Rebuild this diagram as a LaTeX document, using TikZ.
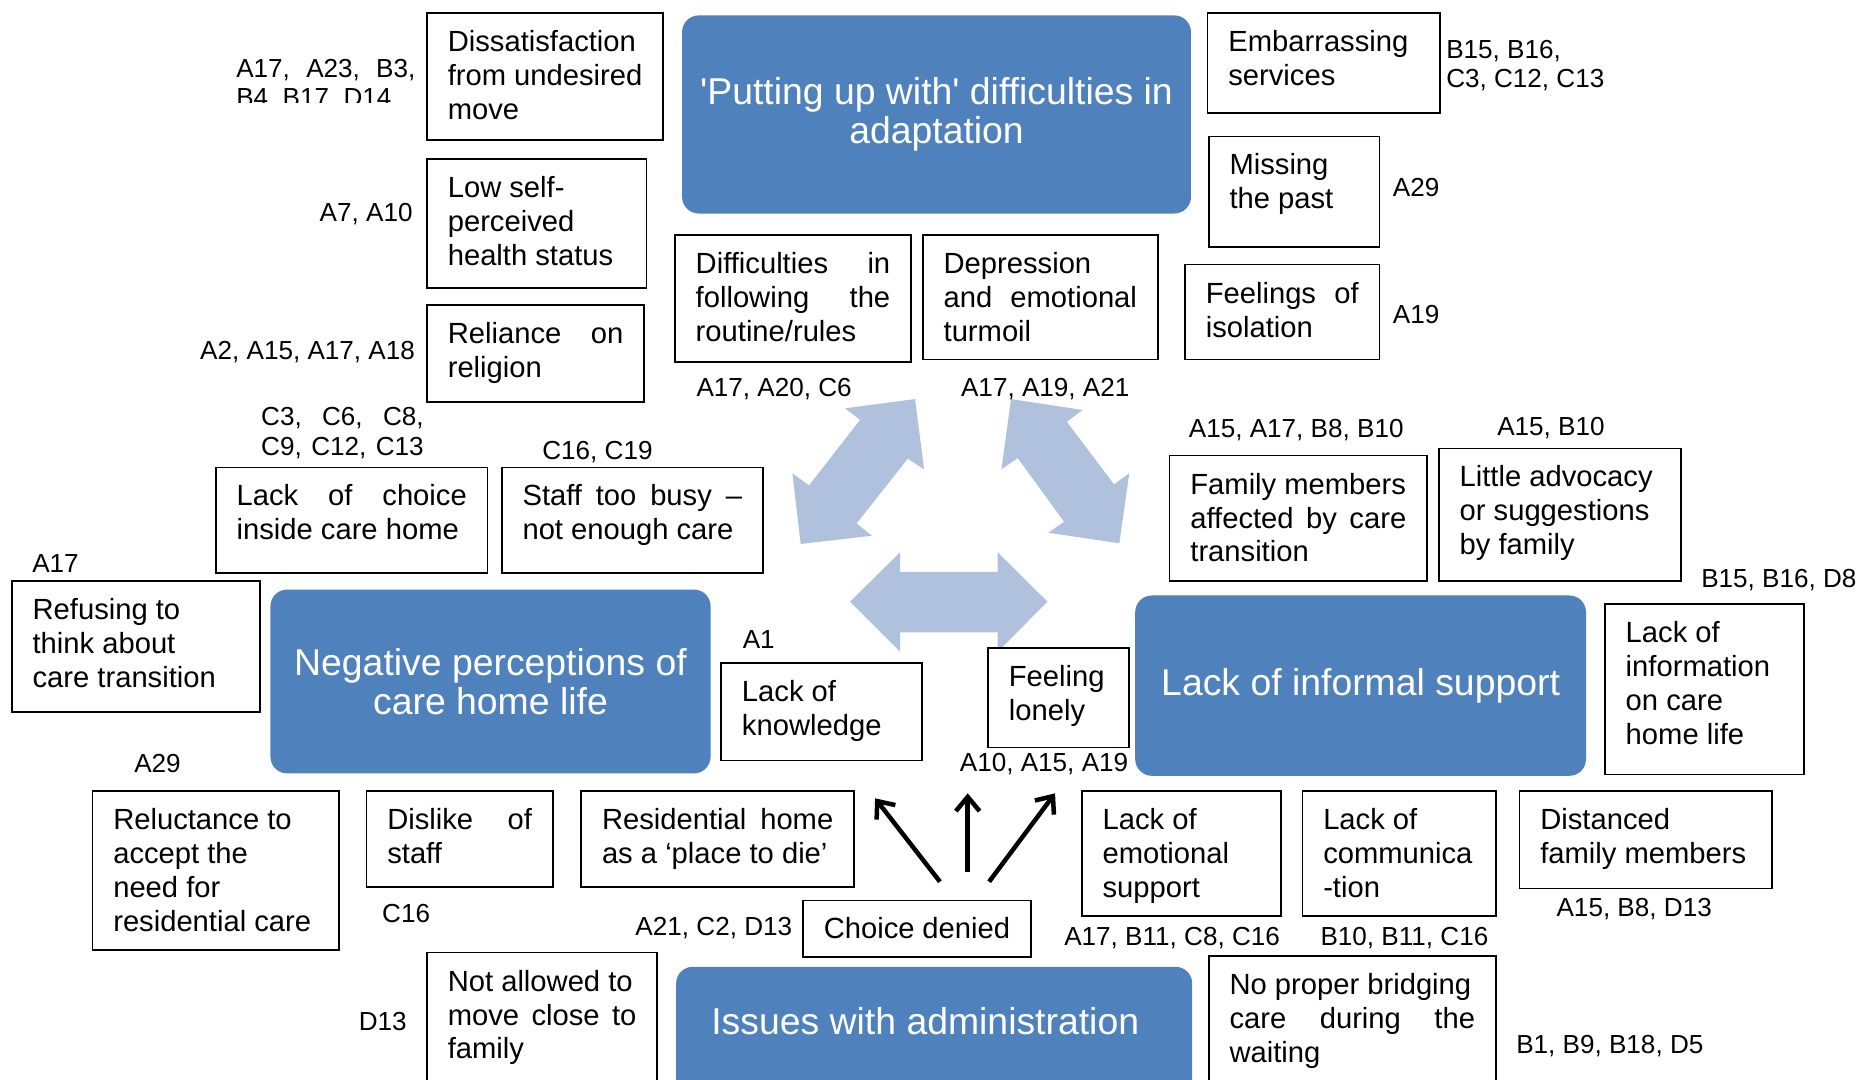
\documentclass[tikz,border=0pt]{standalone}
\usepackage{fontspec}
\setmainfont{Liberation Sans}
\usetikzlibrary{arrows.meta}

\definecolor{hubblue}{HTML}{4F81BD}
\definecolor{flowblue}{HTML}{B0C1DD}

\newcommand\cardfont{\fontsize{24.6}{28.6}\selectfont}
\newcommand\tagfont{\fontsize{22}{25}\selectfont}
\newcommand\hubfont{\fontsize{31.5}{32.5}\selectfont}
% one fixed line of text, no automatic breaking
\newcommand\tline[1]{\hbox to \hsize{\strut#1\hfil}}
% boxed theme: name, left, top, right, bottom, lines
\newcommand\card[6]{%
  \node[card] (#1) at (#2,#3)
   {\parbox[c][\dimexpr #5pt-#3pt\relax][t]{\dimexpr #4pt-#2pt-35pt\relax}{\cardfont\vskip 12.5pt #6}};}

\begin{document}
\begin{tikzpicture}[x=1pt, y=-1pt,
  card/.style={draw=black, line width=1.4pt, fill=white, inner xsep=17.5pt,
               inner ysep=0pt, outer sep=0pt, anchor=north west},
  hub/.style={fill=hubblue, rounded corners=14pt, text=white, font=\hubfont,
              align=center, inner sep=0pt, outer sep=0pt, anchor=north west},
  hubtext/.style={text=white, font=\hubfont, inner sep=0pt},
  tag/.style={font=\tagfont, inner sep=0pt},
  flow/.style={fill=flowblue},
  pointer/.style={line width=3.8pt, -{Straight Barb[length=12pt, width=20pt]}}]

\useasboundingbox (0,0) rectangle (1568,910);
\fill[white] (0,0) rectangle (1568,910);
\clip (0,0) rectangle (1568,910);

% central double-headed block arrows
\fill[flow] (771.4,336.4) -- (779,395.7) -- (765.2,386.7) -- (722.2,441.2)
  -- (734.9,451.6) -- (675,458.6) -- (668,399) -- (682,409.2) -- (725,354)
  -- (712.4,344.2) -- cycle;
\fill[flow] (852.3,336.4) -- (912.7,345.6) -- (899.3,355.5) -- (939.1,408.3)
  -- (952,399) -- (943.6,458) -- (883.8,449.1) -- (897,439.8) -- (857.9,386.1)
  -- (844.2,395.7) -- cycle;
\fill[flow] (716.6,507.2) -- (758.8,465.6) -- (758.8,482) -- (841.1,482)
  -- (841.1,465.6) -- (883,507.2) -- (841.1,549.4) -- (841.1,533)
  -- (758.8,533) -- (758.8,549.4) -- cycle;

% main themes
\node[hub, minimum width=429pt, minimum height=167pt] (adapt) at (575,13)
  {\textquotesingle Putting up with\textquotesingle\ difficulties in\\adaptation};
\node[hub, minimum width=371pt, minimum height=155pt] (negative) at (228,497)
  {Negative perceptions of\\care home life};
\node[hub, minimum width=380pt, minimum height=152pt] (informal) at (957,502) {};
\node[hubtext] (informaltext) at (1147,578) {Lack of informal support};
\node[hub, minimum width=435pt, minimum height=140pt] (admin) at (570,815) {};
\node[hubtext] (admintext) at (780,861) {Issues with administration};

% sub-themes
\card{dissat}{360}{11}{559}{118}{\tline{Dissatisfaction}\tline{from undesired}\tline{move}}
\card{health}{360}{134}{545}{243}{\tline{Low self-}\tline{perceived}\tline{health status}}
\card{religion}{360}{257}{543}{339}{\tline{Reliance\hfill on}\tline{religion}}
\card{nochoice}{182}{394}{411}{483}{\tline{Lack\hfill of\hfill choice}\tline{inside care home}}
\card{busy}{423}{394}{643}{483}{\tline{Staff\hfill too\hfill busy\hfill –}\tline{not enough care}}
\card{refuse}{10}{490}{219}{600}{\tline{Refusing to}\tline{think about}\tline{care transition}}
\card{knowledge}{608}{559}{777}{641}{\tline{Lack of}\tline{knowledge}}
\card{reluct}{78}{667}{286}{801}{\tline{Reluctance to}\tline{accept the}\tline{need for}\tline{residential care}}
\card{dislike}{309}{667}{466}{748}{\tline{Dislike\hfill of}\tline{staff}}
\card{todie}{490}{667}{720}{748}{\tline{Residential\hfill home}\tline{as a ‘place to die’}}
\card{denied}{677}{759}{869}{807}{\tline{Choice denied}}
\card{faraway}{360}{803}{554}{950}{\tline{Not allowed to}\tline{move\hfill close\hfill to}\tline{family}}
\card{routine}{569}{198}{768}{305}{\tline{Difficulties\hfill in}\tline{following\hfill the}\tline{routine/rules}}
\card{turmoil}{778}{198}{976}{303}{\tline{Depression}\tline{and\hfill emotional}\tline{turmoil}}
\card{embarrass}{1018}{11}{1214}{95}{\tline{Embarrassing}\tline{services}}
\card{past}{1019}{115}{1163}{208}{\tline{Missing}\tline{the past}}
\card{isolation}{999}{223}{1163}{303}{\tline{Feelings\hfill of}\tline{isolation}}
\card{family}{986}{384}{1203}{490}{\tline{Family members}\tline{affected\hfill by\hfill care}\tline{transition}}
\card{advocacy}{1213}{378}{1417}{490}{\tline{Little advocacy}\tline{or suggestions}\tline{by family}}
\card{info}{1353}{509}{1521}{653}{\tline{Lack of}\tline{information}\tline{on care}\tline{home life}}
\card{lonely}{833}{546}{952}{630}{\tline{Feeling}\tline{lonely}}
\card{emotional}{912}{667}{1080}{772}{\tline{Lack of}\tline{emotional}\tline{support}}
\card{communic}{1098}{667}{1261}{772}{\tline{Lack of}\tline{communica}\tline{-tion}}
\card{distanced}{1281}{667}{1494}{749}{\tline{Distanced}\tline{family members}}
\card{bridging}{1019}{806}{1261}{950}{\tline{No proper bridging}\tline{care\hfill during\hfill the}\tline{waiting}}

% participant codes
\begin{scope}
  \clip (190,40) rectangle (356,86);
  \node[tag, anchor=base west] (tagdissat) at (199,65)
    {\parbox[t]{151pt}{\tline{A17,\hfill A23,\hfill B3,}\tline{B4, B17, D14}}};
\end{scope}
\node[tag, anchor=base east] (taghealth) at (348,187) {A7, A10};
\node[tag, anchor=base east] (tagreligion) at (350,303) {A2, A15, A17, A18};
\node[tag, anchor=base west] (tagnochoice) at (220,359)
  {\parbox[t]{137pt}{\tline{C3,\hfill C6,\hfill C8,}\tline{C9,\hfill C12,\hfill C13}}};
\node[tag, anchor=base west] (tagbusy) at (457,387) {C16, C19};
\node[tag, anchor=base west] (tagrefuse) at (27,483) {A17};
\node[tag, anchor=base west] (tagknow) at (626,547) {A1};
\node[tag, anchor=base west] (tagreluct) at (113,651) {A29};
\node[tag, anchor=base west] (tagdislike) at (322,778) {C16};
\node[tag, anchor=base east] (tagdenied) at (668,789) {A21, C2, D13};
\node[tag, anchor=base east] (tagfaraway) at (343,869) {D13};
\node[tag, anchor=base west] (tagroutine) at (587,334) {A17, A20, C6};
\node[tag, anchor=base west] (tagturmoil) at (810,334) {A17, A19, A21};
\node[tag, anchor=base west] (tagembarrass) at (1219,49)
  {\parbox[t]{150pt}{\tline{B15, B16,}\tline{C3, C12, C13}}};
\node[tag, anchor=base west] (tagpast) at (1174,166) {A29};
\node[tag, anchor=base west] (tagisolation) at (1174,273) {A19};
\node[tag, anchor=base west] (tagfamily) at (1002,369) {A15, A17, B8, B10};
\node[tag, anchor=base west] (tagadvocacy) at (1262,367) {A15, B10};
\node[tag, anchor=base west] (taginfo) at (1434,495) {B15, B16, D8};
\node[tag, anchor=base west] (taglonely) at (809,650) {A10, A15, A19};
\node[tag, anchor=base west] (tagemotional) at (897,797) {A17, B11, C8, C16};
\node[tag, anchor=base west] (tagcommunic) at (1113,797) {B10, B11, C16};
\node[tag, anchor=base west] (tagdistanced) at (1312,773) {A15, B8, D13};
\node[tag, anchor=base west] (tagbridging) at (1278,888) {B1, B9, B18, D5};

% consequences of denied choice
\coordinate (fromL) at (792.4,743.3);
\coordinate (fromM) at (815.8,734.9);
\coordinate (fromR) at (833.8,743.3);
\coordinate (toL) at (737.7,673);
\coordinate (toM) at (815.8,668.8);
\coordinate (toR) at (889.4,668.8);
\draw[pointer] (fromL) -- (toL);
\draw[pointer] (fromM) -- (toM);
\draw[pointer] (fromR) -- (toR);
\end{tikzpicture}
\end{document}
